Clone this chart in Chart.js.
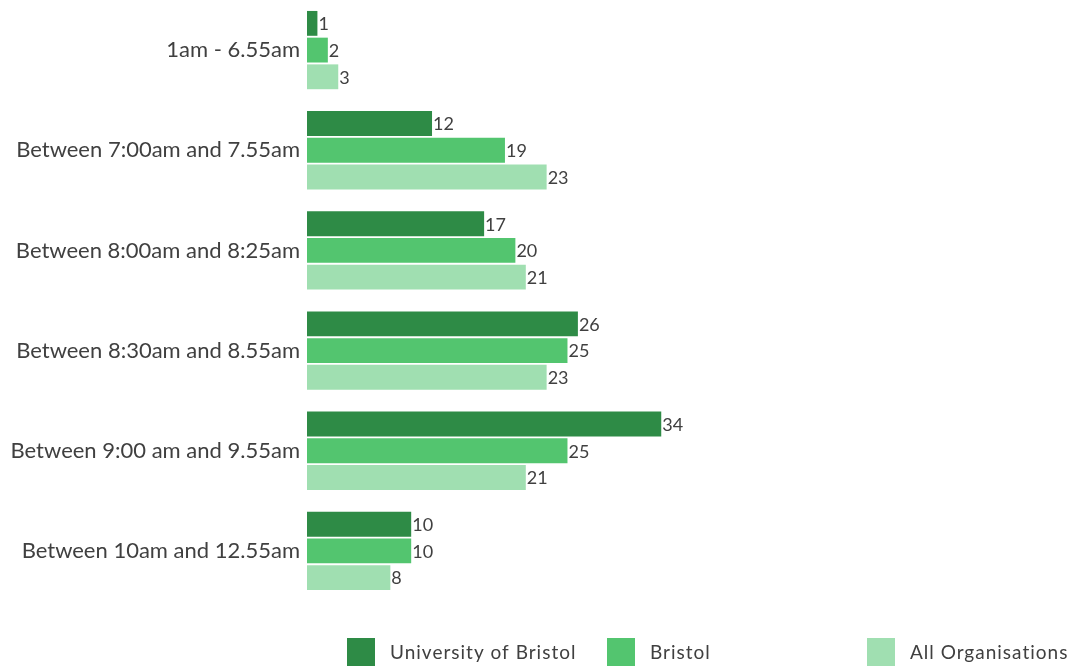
<!DOCTYPE html>
<html>
<head>
<meta charset="utf-8">
<script src="https://cdn.jsdelivr.net/npm/chart.js@4"></script>
<style>
    body { margin: 0; background: #fff; }
    #wrap { width: 1078px; height: 668px; position: relative; }
</style>
</head>
<body>
<div id="wrap"><canvas id="chart"></canvas></div>
<script>
    const categories = [
        '1am - 6.55am',
        'Between 7:00am and 7.55am',
        'Between 8:00am and 8:25am',
        'Between 8:30am and 8.55am',
        'Between 9:00 am and 9.55am',
        'Between 10am and 12.55am'
    ];
    const seriesNames = ['University of Bristol', 'Bristol', 'All Organisations'];
    const universityValues = [1, 12, 17, 26, 34, 10];
    const bristolValues = [2, 19, 20, 25, 25, 10];
    const allOrgValues = [3, 23, 21, 23, 21, 8];
    const seriesColors = ['#2e8b46', '#53c56f', '#a0dfb1'];

    const textColor = '#404040';
    const fontFamily = 'Lato, "Open Sans", sans-serif';

    // value labels at the end of each bar
    const barLabels = {
        id: 'barLabels',
        afterDatasetsDraw(chart) {
            const ctx = chart.ctx;
            ctx.save();
            ctx.font = '18px ' + fontFamily;
            ctx.fillStyle = textColor;
            ctx.textAlign = 'left';
            ctx.textBaseline = 'middle';
            chart.data.datasets.forEach((ds, i) => {
                chart.getDatasetMeta(i).data.forEach((bar, j) => {
                    ctx.fillText(ds.data[j], bar.x + 1, bar.y + 1);
                });
            });
            ctx.restore();
        }
    };

    // legend in fixed slots along the bottom
    const slotLegend = {
        id: 'slotLegend',
        afterDraw(chart) {
            const ctx = chart.ctx;
            ctx.save();
            ctx.font = '19px ' + fontFamily;
            ctx.letterSpacing = '1px';
            ctx.textBaseline = 'middle';
            ctx.textAlign = 'left';
            chart.data.datasets.forEach((ds, i) => {
                const x = 347 + i * 260;
                const y = 638;
                ctx.fillStyle = ds.backgroundColor;
                ctx.fillRect(x, y, 28, 28);
                ctx.fillStyle = textColor;
                ctx.fillText(ds.label, x + 43, y + 15);
            });
            ctx.restore();
        }
    };

    const datasets = [universityValues, bristolValues, allOrgValues].map((vals, i) => ({
        label: seriesNames[i],
        data: vals,
        backgroundColor: seriesColors[i],
        categoryPercentage: 0.8,
        barPercentage: 0.93
    }));

    new Chart(document.getElementById('chart'), {
        type: 'bar',
        data: { labels: categories, datasets: datasets },
        options: {
            indexAxis: 'y',
            responsive: true,
            maintainAspectRatio: false,
            animation: false,
            layout: { autoPadding: false, padding: { top: 0, right: 0, bottom: 67, left: 0 } },
            plugins: {
                legend: { display: false },
                tooltip: { enabled: false }
            },
            scales: {
                x: { display: false, min: 0, max: 74 },
                y: {
                    grid: { display: false, drawTicks: false },
                    border: { display: false },
                    ticks: {
                        color: textColor,
                        font: { family: fontFamily, size: 22 },
                        padding: 7
                    },
                    afterFit(scale) {
                        scale.width = 307;
                        scale.paddingTop = 0;
                        scale.paddingBottom = 0;
                    }
                }
            }
        },
        plugins: [barLabels, slotLegend]
    });
</script>
</body>
</html>
